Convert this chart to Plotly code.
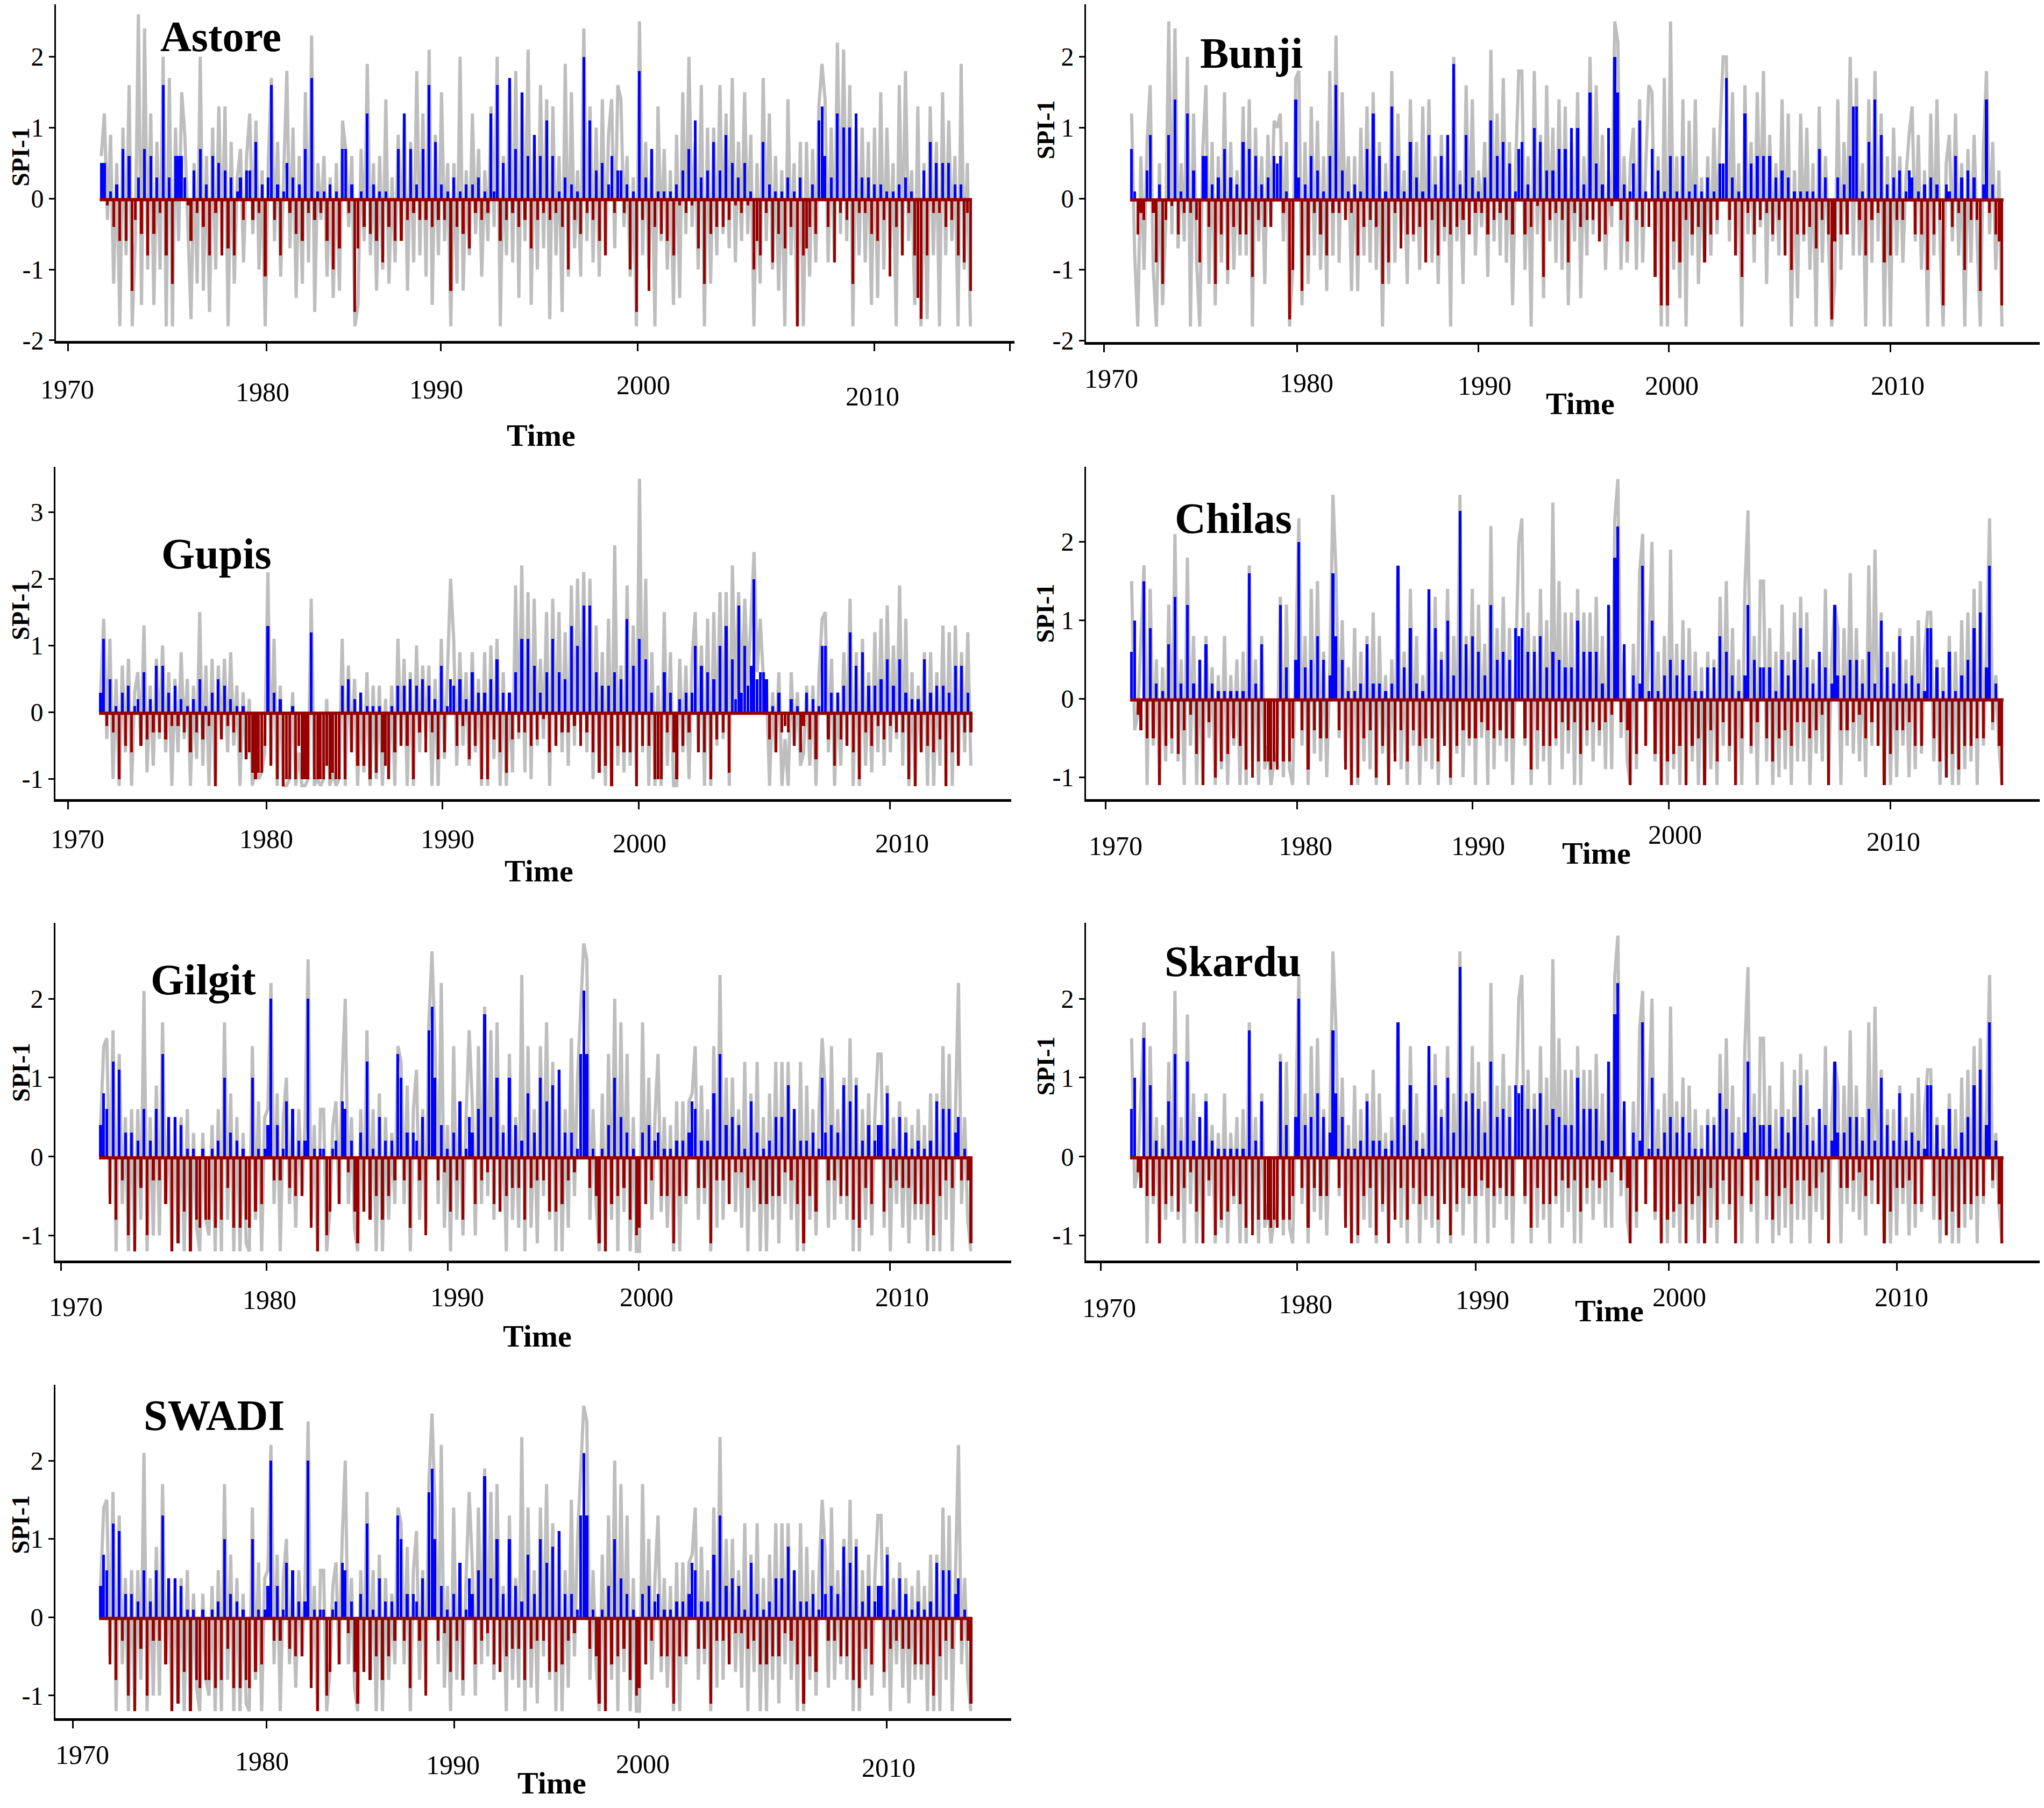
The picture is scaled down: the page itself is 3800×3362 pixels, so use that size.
import plotly.graph_objects as go

START_YEAR = 1971
STEP = 1 / 6          # one value every two months
W, H = 3800, 3362
SERIF = "Liberation Serif, Times New Roman, serif"
GREY, BLUE, RED = "#BEBEBE", "#0000FF", "#990000"

station_order = ["Astore", "Bunji", "Gupis", "Chilas", "Gilgit", "Skardu", "SWADI"]
x_tick_labels = ["1970", "1980", "1990", "2000", "2010"]

# ---------------- data: SPI-1 values x10, two-monthly, 1971-2017 ----------------
astore_grey = [
    6, 12, -3, 9, -12, 5, -18, 10, -8, 16, -18, -6, 26, -15, 24, -10, 12, -15,
    8, -10, 20, -18, 17, -18, 10, -6, 15, 9, -4, -17, 5, -12, 20, -13, 6, -16,
    10, -10, 13, -7, 13, -18, 8, -12, 3, 7, -9, 6, 12, -5, 11, -10, 4, -18,
    5, 17, -6, 8, -11, 3, 18, -7, 10, -14, 6, -12, 15, -9, 23, -16, 5, -3,
    6, -11, 3, -14, 5, -13, 11, 7, -4, 6, -18, -15, 7, -6, 19, -8, 5, -13,
    6, -10, 14, -12, 3, -9, 9, -5, 12, -13, 8, -9, 18, -8, 12, -11, 21, -15,
    9, -8, 15, -6, 5, -18, 5, -12, 20, -13, 4, -8, 12, -5, 7, -11, 4, -6,
    13, -4, 20, -18, 6, -8, 17, -9, 18, -14, 15, -6, 21, -15, 9, -10, 16, -7,
    14, -17, 13, -8, 6, -16, 19, -11, 15, -7, 4, -11, 24, -6, 13, -9, 10, -11,
    14, -8, 9, 14, -7, 16, 14, -4, 6, -11, 3, -18, 25, -8, 8, -10, 7, -18,
    13, -6, 7, -10, 4, -15, 9, -14, 15, -5, 20, -4, 8, -10, 16, -18, 10, -12,
    10, -8, 16, -5, 12, -7, 17, -9, 8, -6, 15, -5, 9, -18, 5, -12, 17, -6,
    12, -10, 6, -13, 4, -18, 14, -8, 5, -18, 8, -18, 8, -11, 7, -9, 13, 19,
    14, -9, 10, -9, 22, -5, 21, -6, 16, -18, 10, -8, 10, -9, 8, -15, 10, -14,
    15, -10, 10, -7, 5, -18, 16, -8, 18, -6, 4, -15, 13, -18, 5, -17, 13, -8,
    8, -18, 15, -8, 11, -6, 6, -18, 19, -10, 5, -18,
]
astore_bars = [
    5, 5, -1, 1, -4, 2, -6, 7, -6, 6, -13, -3, 3, -5, 7, -8, 6, -5,
    3, -2, 16, -8, 3, -12, 6, 6, 6, 3, -1, -6, 4, -2, 7, -4, 2, -8,
    6, -2, 5, -8, 4, -7, 3, -8, 1, 3, -3, 4, 4, -3, 8, -2, 2, -11,
    3, 16, -3, 2, -8, 1, 5, -2, 3, -5, 2, -6, 7, -2, 17, -3, 1, -2,
    1, -6, 2, -10, 1, -7, 7, 7, -2, 2, -16, -7, 1, -4, 12, -5, 2, -6,
    1, -9, 1, -4, 0, -6, 7, -6, 12, -3, 7, -2, 2, -3, 7, -3, 16, -4,
    8, -3, 2, -3, 1, -13, 3, -4, 1, -5, 2, -7, 2, -2, 3, -3, 1, -2,
    12, 1, 16, -6, 5, -3, 17, -2, 7, -4, 15, -3, 6, -7, 9, -3, 6, -2,
    11, -3, 6, -2, 1, -4, 3, -10, 2, -3, 1, -5, 20, -2, 11, -3, 4, -6,
    5, -8, 2, 6, -2, 4, 4, -2, 2, -10, 1, -16, 18, -3, 3, -13, 7, -4,
    1, -5, 1, -6, 1, -8, 2, -1, 4, -2, 7, -1, 11, -7, 3, -12, 4, -5,
    8, -4, 4, -4, 9, -3, 5, -1, 3, -2, 5, -1, 1, -10, -6, -8, 8, -2,
    2, -9, 1, -5, 1, -7, 3, -4, 1, -18, 3, -8, -7, -4, 2, -5, 11, 13,
    6, -4, 3, -9, 12, -2, 10, -3, 10, -12, 12, -2, 3, -2, 3, -5, 2, -6,
    2, -3, 1, -11, 1, -4, 2, -8, 3, -2, 1, -8, -14, -17, 4, -8, 8, -2,
    5, -2, 5, -4, 5, -3, 2, -8, 2, -9, -2, -13,
]

bunji_grey = [
    12, -8, -18, 6, -10, 8, 16, -10, -18, 5, -15, -4, 25, -5, 24, -7, 5, -6,
    20, -18, 12, -9, -18, 7, 16, -12, 8, -15, 6, -9, 15, -12, 8, -10, 4, -8,
    13, -8, 14, -18, 10, -6, 6, -12, 9, -4, 11, 10, 12, -6, 8, -18, -10, 17,
    18, -15, 8, -12, 13, -8, 11, -10, 6, -13, 18, -8, 23, -9, 15, -3, 6, -13,
    6, -13, 10, -8, 13, -9, 15, -10, 8, -18, 5, -12, 18, -9, 12, -5, 4, -12,
    14, -6, 8, -10, 13, -9, 14, -9, 6, -12, 9, -6, 9, -18, 20, -6, 4, -12,
    16, -5, 14, -8, 4, -4, 8, -11, 21, -6, 12, -8, 17, -9, 8, -15, 5, 18,
    18, -10, 6, -18, 18, -5, 9, -14, 16, -6, 10, -9, 14, -10, 13, -15, 8, -6,
    15, -14, 6, -8, 20, -5, 16, -6, 9, -10, 4, -4, 25, 22, -10, 6, -9, 5,
    10, -10, 14, -9, 5, 16, 15, -8, 6, -18, 17, -18, 25, -10, 6, -14, 14, -18,
    11, -8, 14, -12, 3, -9, 6, -8, 10, -5, 10, 20, 20, -6, 15, -8, 5, -18,
    16, -5, 8, -9, 15, -4, 18, -12, 9, -6, 5, -8, 14, -8, 12, -18, 4, -14,
    12, -6, 10, -10, 5, -18, 13, -9, 6, -5, -18, -12, 14, -10, 8, -5, 20, -8,
    17, -8, 5, -18, 14, -9, 18, -6, 12, -18, 6, -18, 10, -8, 6, -9, 3, 9,
    13, -6, 9, -10, 4, -18, 12, -8, 14, -6, -18, 5, 9, -6, 12, -8, 5, -18,
    7, -9, 9, -6, -18, 7, 18, -5, 8, -10, 4, -18,
]
bunji_bars = [
    7, 1, -5, -2, -3, 4, 9, -2, -9, 2, -12, -3, 9, -1, 14, -5, 1, -2,
    12, -2, 4, -3, -9, 6, 6, -4, 2, -12, 3, -5, 7, -10, 3, -4, 2, -5,
    8, -5, 7, -11, 6, -3, 2, -4, 3, -4, 6, 5, 6, -2, 1, -17, -10, 14,
    3, -13, 2, -8, 6, -2, 4, -5, 1, -8, 6, -2, 16, -2, 4, -3, 1, -2,
    2, -8, 1, -4, 7, -3, 12, -4, 6, -12, 1, -9, 13, -2, 6, -7, 1, -5,
    8, -5, 3, -4, 1, -9, 9, -3, 2, -8, 6, -4, 9, -5, 19, -4, 2, -3,
    9, -5, 3, -2, 1, -2, 3, -5, 11, -3, 6, -2, 8, -3, 5, -5, 1, 7,
    8, -5, 2, -4, 10, -1, 8, -11, 4, -3, 4, -2, 7, -3, 7, -9, 10, -2,
    10, -4, 2, -3, 15, -3, 5, -6, 2, -5, 10, -1, 20, 15, -3, 2, -6, 1,
    5, -3, 11, -4, 1, -4, 7, -11, 4, -15, 1, -15, 6, -6, 1, -9, 6, -3,
    1, -5, 2, -4, 1, -9, 3, -5, 1, -3, 5, 5, 17, -3, 3, -8, 1, -11,
    12, -2, 5, -5, 6, -3, 6, -2, 6, -5, 3, -3, 4, -8, 3, -10, 1, -5,
    1, -5, 1, -4, 1, -7, 7, -3, 3, -5, -17, -6, 3, -5, 2, -5, 6, 13,
    13, -3, 1, -8, 8, -3, 14, -2, 9, -9, 2, -8, 3, -3, 4, -3, 1, 4,
    3, -5, 1, -5, 2, -10, 3, -5, 2, -3, -15, 2, 1, -4, 6, -2, 3, -10,
    4, -3, 3, -3, -13, 2, 14, -2, 2, -5, -6, -15,
]

gupis_grey = [
    3, 14, -4, 11, -10, 5, -11, 7, -6, 8, -11, 3, 6, -5, 13, -9, 4, -8,
    8, -4, 10, -6, 6, -11, 5, -6, 9, -4, 5, -11, 4, -7, 15, -8, 7, -11,
    8, -11, 7, -4, 8, -6, 9, -5, 4, -11, 3, -7, 2, -11, -8, -10, -9, -6,
    21, -8, 11, -11, 4, -11, -11, -10, 3, -11, -6, -11, -11, -10, 17, -11, -10, -11,
    -10, 2, -11, -9, -11, -10, 11, -11, 7, -6, 5, -11, 3, -9, 6, -11, 4, -10,
    4, -11, 2, -10, 4, -11, 11, -5, 8, -11, 6, -11, 10, -6, 7, -4, 7, -11,
    5, -11, 11, -7, 6, 20, 11, -8, 9, -5, 6, -8, 9, -6, 5, -11, 9, -11,
    10, -7, 11, -11, 6, -11, 3, -9, 19, -4, 22, -9, 18, -10, 17, -5, 8, -4,
    15, -11, 17, -5, 15, -6, 12, -8, 19, -5, 20, -3, 21, -6, 20, -10, 13, -8,
    9, -11, 14, -11, 25, -8, 7, -9, 19, -8, 13, -11, 35, -6, 20, -11, 9, -11,
    4, -11, 15, -8, 9, -11, -11, 8, -6, 7, -10, 8, 15, -6, 10, -11, 14, -11,
    15, -5, 18, -4, 18, -11, 22, 2, 18, 3, 17, 4, 14, 24, 6, 14, 5, 4,
    -11, 3, -6, 6, -11, -4, -11, 6, -5, 3, -8, -6, 4, -8, 4, -11, 6, 14,
    15, -6, 8, -11, 3, -8, 9, -5, 17, -11, 9, -11, 11, -8, 6, -9, 12, -6,
    14, -8, 16, -6, 10, -4, 19, -8, 14, -11, 6, -11, 4, -6, 9, -11, 9, -11,
    6, -8, 13, -11, 12, -11, 13, -8, 9, -6, 12, -8,
]
gupis_bars = [
    3, 11, -2, 5, -3, 1, -10, 3, -5, 4, -6, 1, 2, -5, 6, -4, 2, -3,
    7, -3, 7, -4, 3, -2, 4, -2, 2, -3, 1, -6, 2, -3, 5, -4, 1, -2,
    3, -11, 5, -4, 4, -2, 2, -3, 1, -6, 1, -7, -6, -9, -10, -9, -9, -5,
    13, -8, 3, -10, 2, -11, -10, -10, 1, -10, -5, -10, -10, -10, 12, -10, -10, -10,
    -10, -8, -10, -9, -10, -10, 4, -10, 5, -6, 2, -8, 3, -8, 1, -10, 1, -9,
    1, -6, -8, -10, 1, -6, 4, -5, 4, -5, 5, -10, 4, -3, 5, -6, 4, -3,
    2, -7, 7, -6, 1, 5, 4, -5, 5, -2, 2, -7, 6, -5, 3, -10, 3, -10,
    5, -4, 8, -6, 3, -9, 3, -4, 6, -3, 11, -3, 11, -5, 7, -4, 3, -1,
    6, -6, 11, -5, 6, -3, 5, -3, 13, -2, 10, -5, 16, -3, 16, -6, 6, -9,
    4, -8, 4, -11, 6, -5, 5, -6, 14, -6, 7, -11, 11, -5, 8, -5, 3, -10,
    -10, -10, 6, -3, 3, -6, -10, 2, -5, 3, -3, 3, 10, -6, 7, -6, 6, -10,
    5, -4, 10, -3, 13, -9, 8, 2, 16, 3, 10, 4, 7, 20, 5, 6, 6, 5,
    -4, 1, -6, 3, -3, -2, -3, 2, -5, 1, -6, -2, 3, -4, 2, -7, 1, 10,
    10, -4, 3, -8, 3, -4, 4, -5, 12, -6, 7, -10, 9, -3, 4, -5, 4, -2,
    5, -4, 8, -2, 4, -3, 8, -3, 3, -10, 2, -11, 2, -6, 8, -5, 3, -6,
    4, -4, 4, -11, 3, -6, 7, -8, 7, -3, 3, -3,
]

chilas_grey = [
    15, -4, -2, 8, 17, -11, 14, -6, 5, -11, 4, -8, 12, -7, 21, -8, 5, -11,
    18, -6, 8, -11, 5, -11, 8, -5, 4, -11, 3, -9, 8, -11, 3, -6, 5, -11,
    6, -11, 17, -8, 5, -11, 8, -9, -6, -11, -8, -7, 13, -10, 12, -9, -11, 6,
    23, -6, 8, -11, 14, -7, 15, -8, 6, -10, 4, 26, 16, -5, 10, -8, 4, -11,
    9, -11, 6, -8, 8, -9, 11, -11, 8, -7, 3, -11, 5, -7, 17, -9, 6, -11,
    14, -6, 8, -11, 3, -8, 14, -9, 13, -11, 6, -6, 14, -11, 8, -7, 26, -10,
    8, -6, 14, -11, 12, -5, 7, -11, 22, -9, 9, -6, 13, -8, 9, -11, 6, 20,
    23, -6, 11, -11, 8, -9, 14, -8, 10, -11, 25, -6, 15, -9, 11, -7, 11, -11,
    14, -11, 11, -6, 11, -8, 13, -6, 8, -9, 12, -9, 23, 28, -5, 6, -8, -11,
    7, -9, 16, 21, -6, 8, 20, -8, 6, -11, 8, -11, 19, -9, 7, -11, 10, -11,
    9, -8, 6, -11, 4, -11, 6, -9, 5, -11, 13, -6, 15, -8, 9, -11, 5, -11,
    14, 24, -7, 8, -11, 15, 15, -8, 9, -11, 6, -10, 12, -9, 6, -11, 11, -8,
    13, -8, 11, -11, 5, -7, 6, -8, 14, -11, 5, 12, 9, -11, 9, -6, 16, -7,
    9, -8, 5, -10, 17, -6, 19, -6, 11, -11, 6, -11, 6, -10, 9, -6, 5, -10,
    8, -9, 10, -7, 6, 11, 11, -8, 5, -11, 4, -10, 8, -11, 6, -11, 10, -9,
    11, -8, 14, -11, 15, -6, 6, 23, -4, 3, -6, -11,
]
chilas_bars = [
    6, 10, -2, -4, 15, -5, 9, -5, 2, -11, 1, -6, 7, -5, 13, -7, 2, -4,
    12, -2, 2, -7, 5, -11, 7, -3, 2, -10, 1, -8, 1, -7, 1, -5, 1, -6,
    1, -9, 16, -10, 2, -8, 7, -8, -8, -9, -8, -9, 12, -8, 4, -8, -5, 5,
    20, -4, 4, -9, 5, -4, 8, -5, 5, -5, 3, 16, 8, -4, 5, -9, 1, -11,
    1, -10, 2, -5, 7, -4, 2, -10, 2, -6, 1, -11, 2, -8, 17, -4, 4, -8,
    9, -4, 2, -6, 1, -5, 14, -5, 9, -8, 5, -6, 10, -10, 3, -6, 24, -4,
    7, -5, 8, -5, 6, -3, 3, -4, 12, -5, 5, -4, 6, -5, 5, -5, 9, 8,
    9, -5, 6, -9, 6, -4, 8, -6, 4, -6, 6, -5, 5, -3, 4, -4, 4, -3,
    10, -7, 6, -4, 6, -3, 6, -4, 2, -3, 12, -2, 18, 22, -3, 7, -4, -11,
    3, -7, 2, 17, -6, 1, 10, -7, 1, -11, 3, -8, 5, -7, 3, -6, 5, -11,
    3, -6, 1, -5, 1, -11, 4, -4, 4, -8, 8, -3, 6, -6, 3, -11, 1, -5,
    3, 12, -6, 5, -3, 4, 4, -5, 4, -8, 1, -5, 5, -4, 3, -6, 5, -3,
    9, -3, 4, -5, 2, -4, 6, -2, 4, -11, 2, 12, 3, -4, 3, -4, 5, -3,
    5, -2, 2, -5, 6, -3, 2, -6, 10, -11, 4, -7, 2, -4, 8, -4, 2, -3,
    3, -6, 2, -6, 1, 9, 9, -5, 4, -8, 1, -10, 6, -7, 1, -9, 3, -6,
    5, -6, 9, -5, 11, -5, 4, 17, -3, 2, -6, -11,
]

gilgit_grey = [
    4, 14, 15, -5, 16, -12, 13, -6, 5, -12, 6, -12, 6, -8, 21, -12, 5, -10,
    9, -10, 17, -6, 5, -12, 5, -11, 5, -12, 6, -12, 3, -9, -12, 3, -8, -10,
    4, -12, 6, -12, 17, -8, 8, -12, 5, -12, 3, -11, -12, 14, -8, 7, -12, 5,
    6, 22, -6, 8, -12, 5, 10, -6, 5, -9, 6, -5, 4, 25, -8, 4, -12, 6,
    6, -12, -7, 4, 7, -6, 10, 20, -6, 5, -9, -12, 6, -7, 16, -8, 6, -12,
    8, -12, 5, -8, 3, -6, 14, 12, -6, 9, -12, 6, 11, -8, 6, -9, 17, 26,
    14, -6, 22, -9, 4, -12, 14, -8, 6, -10, 5, 16, 7, -10, 14, -6, 19, -5,
    16, -8, 17, -7, 4, -12, 13, -8, 5, -9, 23, -12, 14, -9, 6, -11, 14, -5,
    17, -8, 12, -12, 11, -12, 6, -9, 15, -5, 10, 18, 27, 25, -8, 6, -6, -12,
    8, -12, 13, -8, 20, -12, 17, -7, 13, -12, 5, -12, -12, 17, -6, 10, -8, 5,
    13, -7, 5, -9, 4, -12, 7, -12, 7, -6, 7, 8, 14, -8, 9, -6, 6, -12,
    14, -9, 23, -8, 10, -6, 10, -7, 6, -9, 12, -12, 8, -7, 12, -12, 5, -12,
    8, -8, 12, -11, 12, -6, 12, -8, 6, -12, 12, -12, 9, -8, 6, -10, 6, 15,
    8, -9, 14, -8, 6, -6, 10, -8, 15, -12, 10, -12, 6, -8, 8, -10, 5, 13,
    13, -9, 9, -12, 5, -6, 7, -9, 5, -11, 4, -8, 6, -8, 4, -12, 8, -12,
    8, -12, 14, -8, 13, -12, 6, 22, -6, 5, -8, -12,
]
gilgit_bars = [
    4, 8, 6, -6, 12, -8, 11, -3, 3, -10, 3, -12, 2, -4, 6, -10, 2, -3,
    6, -3, 13, -6, 5, -12, 5, -11, 4, -7, 1, -12, 1, -8, -9, 1, -8, -8,
    1, -9, 2, -8, 10, -4, 3, -9, 2, -9, 1, -8, -9, 10, -7, 1, -6, 1,
    4, 20, -3, 4, -3, 1, 7, -4, 6, -5, 2, -5, 2, 20, -9, 1, -12, 1,
    1, -10, -7, 1, 2, -6, 7, 6, -2, 2, -7, -11, 3, -7, 12, -8, 1, -5,
    5, -8, 2, -5, 2, -3, 13, 10, -3, 3, -9, 3, 2, -3, 5, -10, 16, 19,
    10, -3, 4, -2, 1, -7, 3, -3, 7, -8, 1, 5, 3, -6, 6, -3, 18, -2,
    5, -6, 10, -7, 3, -5, 10, -4, 4, -4, 2, -8, 8, -4, 3, -3, 10, -3,
    7, -7, 9, -7, 11, -6, 3, -3, 3, -2, 1, 13, 21, 13, -4, 1, -5, -11,
    1, -12, 4, -6, 10, -5, 5, -4, 3, -8, 1, -10, -9, 3, -6, 4, -3, 2,
    3, -5, 1, -5, 1, -11, 2, -5, 2, -5, 3, 7, 6, -4, 2, -4, 2, -11,
    8, -3, 13, -3, 4, -6, 5, -2, 4, -2, 1, -4, 7, -3, 3, -6, 1, -6,
    2, -5, 5, -5, 5, -2, 9, -3, 6, -6, 2, -11, 2, -5, 3, -7, 1, 10,
    3, -3, 4, -3, 3, -5, 9, -5, 7, -8, 9, -9, 2, -4, 4, -6, 2, 4,
    4, -7, 8, -4, 1, -3, 5, -4, 3, -4, 1, -6, 2, -6, 1, -6, 2, -10,
    7, -5, 6, -3, 6, -4, 3, 5, -3, 1, -3, -11,
]

# Skardu and SWADI read as the same shapes as Chilas and Gilgit
skardu_grey, skardu_bars = list(chilas_grey), list(chilas_bars)
swadi_grey, swadi_bars = list(gilgit_grey), list(gilgit_bars)

series = {
    "Astore": (astore_grey, astore_bars),
    "Bunji": (bunji_grey, bunji_bars),
    "Gupis": (gupis_grey, gupis_bars),
    "Chilas": (chilas_grey, chilas_bars),
    "Gilgit": (gilgit_grey, gilgit_bars),
    "Skardu": (skardu_grey, skardu_bars),
    "SWADI": (swadi_grey, swadi_bars),
}

# ---------------- layout of the seven panels (pixel boxes, label spots) ----------------
panel_cfg = {
    "Astore": dict(box=(96, 1878, 0, 631), yr=(-2.01, 2.74), yt=[-2, -1, 0, 1, 2],
                   xr=(1968.64, 2020.29), xt=[1969.28, 1980, 1989.39, 2000, 2012.75, 2020.03],
                   lab=[(117, 721), (480, 726), (803, 721), (1188, 713), (1614, 734)],
                   title=(402, 60), time=(998, 808), spi=(31, 286)),
    "Bunji": dict(box=(2011, 3790, 0, 633), yr=(-2.02, 2.74), yt=[-2, -1, 0, 1, 2],
                  xr=(1968.63, 2020.12), xt=[1969.61, 1980, 1989.75, 2000, 2011.92, 2020.03],
                  lab=[(2058, 701), (2421, 709), (2752, 714), (3100, 714), (3520, 714)],
                  title=(2318, 92), time=(2930, 748), spi=(1936, 235)),
    "Gupis": dict(box=(95, 1872, 866, 1489), yr=(-1.30, 3.68), yt=[-1, 0, 1, 2, 3],
                  xr=(1968.65, 2020.09), xt=[1969.33, 1980, 1989.48, 2000.03, 2013.56, 2020.1],
                  lab=[(136, 1564), (487, 1564), (824, 1564), (1181, 1572), (1669, 1572)],
                  title=(394, 1030), time=(994, 1624), spi=(31, 1136)),
    "Chilas": dict(box=(2011, 3790, 866, 1489), yr=(-1.28, 2.96), yt=[-1, 0, 1, 2],
                   xr=(1968.63, 2020.12), xt=[1969.70, 1980, 1989.44, 2000, 2011.92, 2020.03],
                   lab=[(2066, 1577), (2419, 1577), (2740, 1577), (3106, 1556), (3512, 1569)],
                   title=(2285, 963), time=(2960, 1590), spi=(1936, 1141)),
    "Gilgit": dict(box=(95, 1872, 1721, 2354), yr=(-1.32, 2.96), yt=[-1, 0, 1, 2],
                   xr=(1968.65, 2020.09), xt=[1968.96, 1980, 1989.77, 2000.03, 2013.56, 2020.1],
                   lab=[(133, 2440), (493, 2427), (842, 2422), (1194, 2422), (1669, 2422)],
                   title=(370, 1828), time=(991, 2495), spi=(31, 2001)),
    "Skardu": dict(box=(2011, 3790, 1721, 2354), yr=(-1.32, 2.96), yt=[-1, 0, 1, 2],
                   xr=(1968.63, 2020.12), xt=[1969.44, 1980, 1989.61, 2000, 2012.27, 2020.03],
                   lab=[(2054, 2442), (2419, 2435), (2748, 2427), (3114, 2422), (3527, 2422)],
                   title=(2283, 1793), time=(2984, 2448), spi=(1936, 1989)),
    "SWADI": dict(box=(95, 1872, 2586, 3211), yr=(-1.29, 2.97), yt=[-1, 0, 1, 2],
                  xr=(1968.65, 2020.09), xt=[1969.59, 1980, 1990.12, 2000.03, 2013.39, 2020.1],
                  lab=[(145, 3279), (479, 3291), (834, 3299), (1187, 3297), (1644, 3304)],
                  title=(390, 2644), time=(1018, 3332), spi=(31, 2848)),
}

fig = go.Figure()
axes = {}
annotations = []
n_panels = len(station_order)


def px(xp, yp):
    return xp / W, 1 - yp / H


for k, name in enumerate(station_order, start=1):
    grey, bars = series[name]
    cfg = panel_cfg[name]
    n = len(grey)
    x = [START_YEAR + (i + 0.5) * STEP for i in range(n)]
    suffix = "" if k == 1 else str(k)
    xa, ya = "x" + suffix, "y" + suffix
    ov = str(k + n_panels)           # overlay y axis so the bars sit above the grey line
    yo = "y" + ov

    fig.add_trace(go.Scatter(x=x, y=[v / 10 for v in grey], mode="lines",
                             line=dict(color=GREY, width=6), xaxis=xa, yaxis=ya,
                             hoverinfo="skip"))
    fig.add_trace(go.Bar(x=x, y=[v / 10 if v < 0 else 0 for v in bars], width=STEP * 0.9,
                         marker=dict(color=RED, line=dict(width=0)), xaxis=xa, yaxis=yo))
    fig.add_trace(go.Bar(x=x, y=[v / 10 if v > 0 else 0 for v in bars], width=STEP * 0.9,
                         marker=dict(color=BLUE, line=dict(width=0)), xaxis=xa, yaxis=yo))
    fig.add_trace(go.Scatter(x=[x[0] - STEP / 2, x[-1] + STEP / 2], y=[-0.015, -0.015],
                             mode="lines", line=dict(color=RED, width=6), xaxis=xa, yaxis=yo,
                             hoverinfo="skip"))

    l, r, t, b = cfg["box"]
    axes["xaxis" + suffix] = dict(
        domain=[l / W, r / W], range=list(cfg["xr"]), anchor=ya,
        showline=True, linecolor="black", linewidth=5,
        ticks="outside", tickvals=cfg["xt"], ticklen=14, tickwidth=3, tickcolor="black",
        showticklabels=False, showgrid=False, zeroline=False, fixedrange=True)
    axes["yaxis" + suffix] = dict(
        domain=[1 - b / H, 1 - t / H], range=list(cfg["yr"]), anchor=xa,
        showline=True, linecolor="black", linewidth=3,
        ticks="outside", ticklen=10, tickwidth=3, tickcolor="black",
        tickvals=cfg["yt"], ticktext=[str(v) for v in cfg["yt"]],
        tickfont=dict(family=SERIF, size=48, color="black"),
        showgrid=False, zeroline=False, fixedrange=True)
    axes["yaxis" + ov] = dict(
        overlaying=ya, anchor=xa, range=list(cfg["yr"]), visible=False,
        showgrid=False, zeroline=False, fixedrange=True)

    for txt, (lx, ly) in zip(x_tick_labels, cfg["lab"]):
        ax_, ay_ = px(lx, ly)
        annotations.append(dict(x=ax_, y=ay_, xref="paper", yref="paper", text=txt,
                                showarrow=False, xanchor="center", yanchor="middle",
                                font=dict(family=SERIF, size=50, color="black")))
    tx, ty = px(*cfg["title"])
    annotations.append(dict(x=tx, y=ty, xref="paper", yref="paper", text="<b>%s</b>" % name,
                            showarrow=False, xanchor="center", yanchor="middle",
                            font=dict(family=SERIF, size=80, color="black")))
    tx, ty = px(*cfg["time"])
    annotations.append(dict(x=tx, y=ty, xref="paper", yref="paper", text="<b>Time</b>",
                            showarrow=False, xanchor="center", yanchor="middle",
                            font=dict(family=SERIF, size=58, color="black")))
    tx, ty = px(*cfg["spi"])
    annotations.append(dict(x=tx, y=ty, xref="paper", yref="paper", text="<b>SPI-1</b>",
                            showarrow=False, xanchor="center", yanchor="middle", textangle=-90,
                            font=dict(family=SERIF, size=46, color="black")))

fig.update_layout(
    width=W, height=H, margin=dict(l=0, r=0, t=0, b=0),
    paper_bgcolor="white", plot_bgcolor="white",
    showlegend=False, barmode="overlay", bargap=0,
    annotations=annotations, **axes)

fig.write_html("out.html")
